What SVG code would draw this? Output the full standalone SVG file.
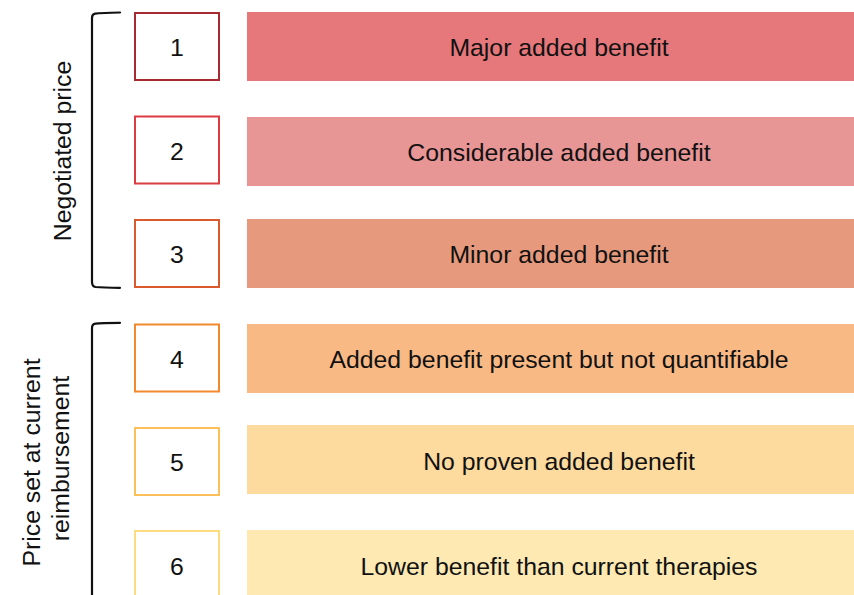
<svg xmlns="http://www.w3.org/2000/svg" width="854" height="595" viewBox="0 0 854 595">
  <style>
    text { font-family: "Liberation Sans", Arial, Helvetica, sans-serif; font-size: 24.8px; fill: #111; }
    .num { text-anchor: middle; }
    .lbl { text-anchor: middle; }
    .box { fill: #ffffff; stroke-width: 2; }
    .bar { stroke: none; }
    .brace { fill: none; stroke: #111; stroke-width: 2.2; stroke-linecap: round; stroke-linejoin: round; }
  </style>

  <!-- group brackets and side captions -->
  <g id="connectors">
    <path class="brace" d="M120,12.5 C108,12.6 99,13 95,13.6 Q92,14.2 92,18 L92,282 Q92,286.5 95.5,287 C100,287.4 108,287.7 120,287.8"/>
    <path class="brace" d="M120,322.8 C108,322.9 99,323.2 95.5,323.7 Q92,324.3 92,328 L92,600"/>
  </g>

  <g id="group-negotiated">
    <text class="lbl" transform="translate(71,151) rotate(-90)">Negotiated price</text>
  </g>
  <g id="group-reimbursement">
    <text class="lbl" transform="translate(39.5,462.5) rotate(-90)">Price set at current</text>
    <text class="lbl" transform="translate(68.5,458.5) rotate(-90)">reimbursement</text>
  </g>

  <!-- benefit levels: numbered box + coloured bar -->
  <g id="level-1">
    <rect class="box" x="135" y="13" width="84" height="67" stroke="#A82A31"/>
    <text class="num" x="177" y="56">1</text>
    <rect class="bar" x="247" y="12" width="620" height="69" fill="#E6777A"/>
    <text class="lbl" x="559" y="56">Major added benefit</text>
  </g>
  <g id="level-2">
    <rect class="box" x="135" y="116.5" width="84" height="67" stroke="#DB3C41"/>
    <text class="num" x="177" y="160">2</text>
    <rect class="bar" x="247" y="117" width="620" height="69" fill="#E89596"/>
    <text class="lbl" x="559" y="161">Considerable added benefit</text>
  </g>
  <g id="level-3">
    <rect class="box" x="135" y="220" width="84" height="67" stroke="#DA5A2D"/>
    <text class="num" x="177" y="263">3</text>
    <rect class="bar" x="247" y="219" width="620" height="69" fill="#E6997D"/>
    <text class="lbl" x="559" y="263">Minor added benefit</text>
  </g>
  <g id="level-4">
    <rect class="box" x="135" y="324.5" width="84" height="67" stroke="#F2892F"/>
    <text class="num" x="177" y="368">4</text>
    <rect class="bar" x="247" y="324" width="620" height="69" fill="#F9B985"/>
    <text class="lbl" x="559" y="368">Added benefit present but not quantifiable</text>
  </g>
  <g id="level-5">
    <rect class="box" x="135" y="428" width="84" height="67" stroke="#FCC05B"/>
    <text class="num" x="177" y="471">5</text>
    <rect class="bar" x="247" y="425" width="620" height="69" fill="#FDDA9E"/>
    <text class="lbl" x="559" y="470">No proven added benefit</text>
  </g>
  <g id="level-6">
    <rect class="box" x="135" y="531" width="84" height="67" stroke="#FDDB80"/>
    <text class="num" x="177" y="575">6</text>
    <rect class="bar" x="247" y="530" width="620" height="69" fill="#FEE9B2"/>
    <text class="lbl" x="559" y="575">Lower benefit than current therapies</text>
  </g>
</svg>
